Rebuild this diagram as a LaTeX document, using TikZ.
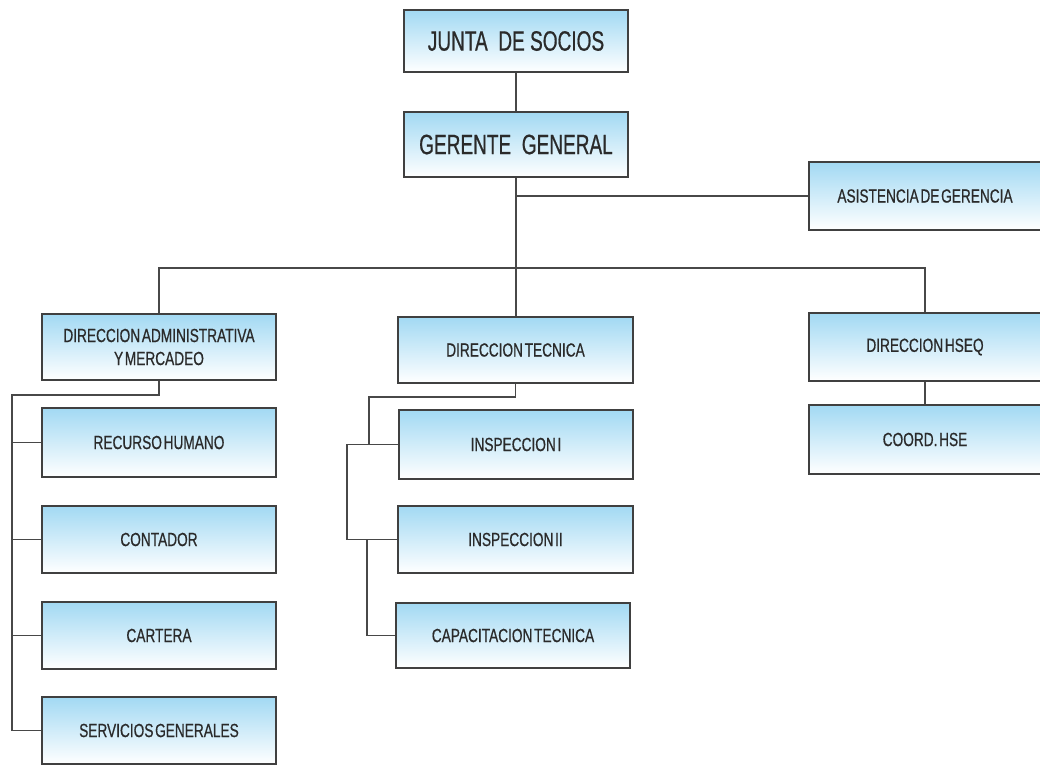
\documentclass[tikz,border=0pt]{standalone}
\usepackage{fontspec}
\usetikzlibrary{shadows}
\newfontfamily\bigboxfont[FakeStretch=0.68,FakeBold=0.6]{Liberation Sans}
\newfontfamily\smallboxfont[FakeStretch=0.72,FakeBold=0.6,WordSpace=0.45]{Liberation Sans}
\definecolor{boxtop}{HTML}{A2D9F3}
\definecolor{boxline}{HTML}{404040}
\definecolor{linkcol}{HTML}{484848}
\definecolor{txtcol}{HTML}{2A2A2A}
\tikzset{
  orgbox/.style={draw=boxline, line width=1.7pt, top color=boxtop, bottom color=white,
    inner sep=0pt, align=center, text=txtcol,
    drop shadow={shadow xshift=1pt, shadow yshift=-1.2pt, opacity=0.35, fill=black}},
  bigbox/.style={orgbox, font=\bigboxfont\fontsize{28}{32}\selectfont},
  smallbox/.style={orgbox, font=\smallboxfont\fontsize{19}{23}\selectfont},
  link/.style={draw=linkcol, line width=1.6pt}
}
\begin{document}
\begin{tikzpicture}[x=1pt,y=-1pt]
\useasboundingbox (0,0) rectangle (1040,766);
\fill[white] (0,0) rectangle (1040,766);

% top of the chart
\node[bigbox, minimum width=224pt, minimum height=62pt] (junta) at (516,41) {JUNTA\ \ DE SOCIOS};
\node[bigbox, minimum width=224pt, minimum height=65pt] (gerente) at (516,144.5) {GERENTE\ \ GENERAL};
\node[smallbox, minimum width=232pt, minimum height=68pt] (asist) at (925,196) {ASISTENCIA DE GERENCIA};

% directions
\node[smallbox, minimum width=234pt, minimum height=66pt] (dadm) at (159,347) {DIRECCION ADMINISTRATIVA\\Y MERCADEO};
\node[smallbox, minimum width=235pt, minimum height=66pt] (dtec) at (515.5,350) {DIRECCION TECNICA};
\node[smallbox, minimum width=232pt, minimum height=68pt] (dhseq) at (925,347) {DIRECCION HSEQ};

% administrative column
\node[smallbox, minimum width=234pt, minimum height=69pt] (rh) at (159,442.5) {RECURSO HUMANO};
\node[smallbox, minimum width=234pt, minimum height=67pt] (contador) at (159,539.5) {CONTADOR};
\node[smallbox, minimum width=234pt, minimum height=67pt] (cartera) at (159,635.5) {CARTERA};
\node[smallbox, minimum width=234pt, minimum height=67pt] (servicios) at (159,730.5) {SERVICIOS GENERALES};

% technical column
\node[smallbox, minimum width=234pt, minimum height=69pt] (insp1) at (516,444.5) {INSPECCION I};
\node[smallbox, minimum width=235pt, minimum height=67pt] (insp2) at (515.5,539.5) {INSPECCION II};
\node[smallbox, minimum width=234pt, minimum height=65pt] (capac) at (513,635.5) {CAPACITACION TECNICA};

% HSEQ column
\node[smallbox, minimum width=232pt, minimum height=69pt] (coord) at (925,439.5) {COORD. HSE};

% junction points
\coordinate (asj) at (516,196);
\coordinate (bar) at (516,268);
\coordinate (admtop) at (12,395);
\coordinate (tecA) at (369,397);
\coordinate (tecB) at (347,0);
\coordinate (tecC) at (367,0);

% connectors
\draw[link] (junta.south) -- (gerente.north);
\draw[link] (gerente.south) -- (dtec.north -| gerente.south);
\draw[link] (asj) -- (asist.west);
\draw[link] (dadm.north) |- (bar) -| (dhseq.north);
\draw[link] (dhseq.south) -- (coord.north);

\draw[link] (dadm.south) |- (admtop) |- (servicios.west);
\draw[link] (rh.west) -- (rh.west -| admtop);
\draw[link] (contador.west) -- (contador.west -| admtop);
\draw[link] (cartera.west) -- (cartera.west -| admtop);

\draw[link] (dtec.south) |- (tecA) -- (tecA |- insp1.west);
\draw[link] (insp1.west) -- (tecB |- insp1.west) |- (insp2.west);
\draw[link] (tecC |- insp2.west) |- (capac.west);
\end{tikzpicture}
\end{document}
